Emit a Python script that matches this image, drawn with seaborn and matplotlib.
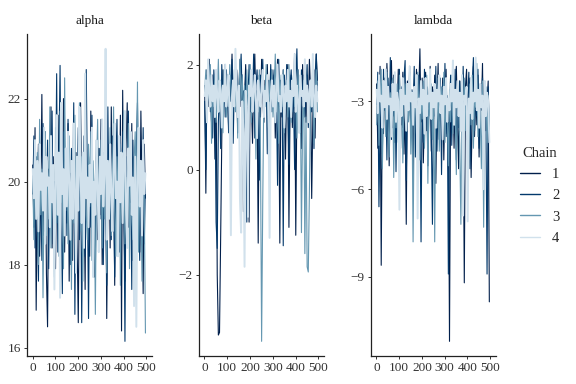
import numpy as np
import pandas as pd
import matplotlib
matplotlib.use("Agg")
import matplotlib.pyplot as plt
from matplotlib.lines import Line2D
import seaborn as sns

# draws, one value every 5 iterations
alpha_c1 = [20.4, 18.9, 21.3, 16.9, 19.8, 20.9, 18.2, 19.5, 22.1, 18.7,
            19.9, 21.2, 17.8, 16.5, 20.3, 19.1, 21.8, 18.4, 20.6, 19.2,
            17.9, 20.8, 19.4, 21.6, 18.6, 20.1, 19.7, 22.0, 18.3, 20.5,
            19.0, 21.4, 17.6, 20.2, 19.3, 18.1, 21.1, 19.8, 20.7, 18.5,
            16.6, 20.4, 21.9, 19.6, 18.8, 20.0, 17.4, 21.3, 19.1, 20.6,
            18.2, 21.7, 19.5, 20.3, 17.7, 19.9, 21.0, 18.6, 20.8, 19.2,
            21.5, 18.0, 20.1, 19.4, 21.2, 16.7, 19.7, 20.9, 18.4, 21.8,
            19.0, 20.5, 17.5, 21.1, 19.6, 20.2, 18.7, 21.6, 16.4, 22.2,
            19.3, 17.6, 20.7, 21.9, 18.9, 20.0, 19.5, 21.4, 18.1, 20.6,
            17.9, 21.0, 19.2, 20.4, 18.3, 21.7, 19.8, 17.3, 20.9, 19.6]
alpha_c2 = [19.7, 21.1, 18.4, 20.6, 19.2, 17.6, 20.9, 19.9, 18.1, 21.4,
            20.2, 18.8, 19.5, 21.0, 17.9, 20.4, 19.1, 21.7, 18.5, 20.0,
            19.6, 22.6, 18.3, 20.7, 22.8, 19.0, 17.3, 21.2, 19.8, 20.5,
            18.7, 21.5, 19.4, 18.0, 20.8, 19.3, 21.9, 16.8, 20.1, 19.7,
            21.3, 18.6, 20.6, 16.6, 19.5, 21.1, 18.2, 22.7, 19.9, 16.7,
            20.3, 18.9, 21.6, 19.2, 20.0, 17.8, 21.0, 19.6, 18.4, 20.8,
            19.1, 21.4, 18.0, 20.5, 19.7, 17.5, 21.8, 19.3, 20.2, 18.6,
            21.1, 19.8, 17.7, 20.4, 21.5, 19.0, 18.3, 20.9, 19.4, 21.2,
            19.9, 16.15, 20.6, 18.8, 21.7, 19.5, 20.1, 17.4, 21.0, 19.2,
            18.7, 20.8, 21.9, 19.6, 18.1, 20.3, 19.0, 21.3, 18.5, 20.0]
alpha_c3 = [20.1, 18.6, 21.0, 19.4, 20.7, 18.0, 21.5, 19.2, 20.3, 17.2,
            19.8, 21.2, 18.7, 20.5, 19.1, 21.8, 18.4, 20.0, 19.6, 17.7,
            21.3, 19.0, 20.6, 18.2, 21.7, 19.5, 20.2, 17.9, 22.5, 19.3,
            20.8, 18.5, 21.1, 19.7, 17.4, 20.4, 19.0, 21.6, 18.3, 20.1,
            19.5, 21.9, 18.8, 20.6, 17.6, 20.0, 21.4, 19.2, 18.6, 20.9,
            19.4, 21.2, 18.1, 20.5, 19.8, 16.8, 20.3, 21.5, 18.9, 19.6,
            21.0, 18.4, 20.7, 19.1, 21.6, 17.8, 20.2, 19.5, 21.3, 18.7,
            20.0, 21.8, 19.3, 18.2, 20.6, 19.7, 21.1, 17.5, 20.4, 19.0,
            21.7, 18.5, 20.1, 19.6, 21.4, 17.9, 20.8, 19.2, 18.6, 20.5,
            21.2, 19.4, 22.4, 18.3, 20.0, 19.8, 17.6, 21.0, 19.5, 16.35]
alpha_c4 = [20.3, 19.6, 21.0, 19.1, 20.5, 18.8, 20.9, 19.8, 20.2, 19.3,
            21.3, 18.5, 20.6, 19.9, 20.1, 18.9, 21.1, 19.5, 20.4, 17.4,
            20.0, 21.6, 19.2, 20.7, 17.2, 21.9, 19.7, 20.3, 18.7, 20.8,
            19.4, 21.2, 20.0, 18.6, 20.5, 19.1, 21.4, 19.8, 17.8, 20.6,
            19.3, 21.8, 20.2, 19.0, 20.7, 18.4, 22.6, 19.6, 20.1, 18.9,
            20.4, 19.5, 21.3, 17.7, 20.0, 19.2, 21.0, 19.9, 18.3, 20.6,
            19.7, 21.5, 19.4, 20.2, 23.2, 18.6, 20.5, 19.1, 20.9, 19.8,
            18.8, 20.3, 21.4, 19.6, 20.0, 18.2, 21.1, 19.5, 20.7, 19.0,
            20.4, 21.7, 19.3, 18.4, 20.8, 19.9, 21.2, 19.2, 20.1, 17.0,
            20.6, 16.5, 20.0, 21.3, 19.4, 20.5, 18.7, 21.0, 19.7, 20.2]

beta_c1 = [1.6, -0.45, 1.9, 1.2, 2.1, 1.4, 0.9, 1.8, 1.5, 0.2,
           1.7, -2.0, -3.15, -3.1, -1.3, 0.6, 1.9, 1.3, 2.0, 1.1,
           1.6, 0.8, 1.8, 1.4, 2.2, 1.0, 1.7, 1.3, 1.9, 0.7,
           1.5, 2.1, 1.2, 1.8, -0.8, 1.4, 2.0, 1.1, 1.6, -1.0,
           1.9, 1.3, 0.5, 1.7, 2.2, 1.2, 1.5, -1.4, 1.8, 1.0,
           2.1, 1.4, 0.9, 1.7, 1.3, 2.0, 1.1, 0.3, 1.6, 1.9,
           1.2, 1.8, 0.6, 1.5, 2.1, 1.3, -1.4, 1.7, 1.0, 1.9,
           1.4, 0.2, 1.6, 2.0, -1.1, 1.2, 1.8, 0.8, 1.5, 2.2,
           -1.25, 1.3, 1.9, 1.1, 1.7, 0.4, 2.0, 1.4, 1.6, 0.9,
           1.8, 1.2, 2.1, 1.5, -0.55, 1.0, 1.9, 0.6, 2.2, 1.7]
beta_c2 = [1.3, 0.0, 1.8, 1.5, 2.0, 1.1, 1.7, 0.6, 1.9, 1.4,
           -1.0, -1.5, 0.9, 1.6, 0.4, 2.0, 1.2, 1.7, 1.0, 1.9,
           1.5, 0.7, 1.8, 1.3, 2.1, 0.5, 1.6, 1.2, 1.9, 1.4,
           1.0, 1.7, 2.2, 1.3, 1.5, 0.8, 1.8, -1.0, 1.4, 2.0,
           1.1, 1.7, 1.3, 2.2, 0.6, 1.6, 1.9, 1.2, -0.2, 1.8,
           1.4, 2.1, 1.0, 1.5, 1.8, 0.3, 1.7, 1.3, 2.0, 1.1,
           1.6, 1.9, 0.9, 1.4, -0.3, 2.1, 1.2, 1.7, 1.5, -1.45,
           1.8, 1.0, 2.0, 1.3, 0.1, 1.6, 1.9, 1.1, 1.4, 0.0,
           1.7, 2.3, 1.2, 1.5, 0.7, 1.9, 1.3, 1.8, 1.0, 1.6,
           2.0, 0.8, 1.4, 1.7, 1.1, 2.1, 0.4, 1.8, 2.2, 1.5]
beta_c3 = [1.5, 1.9, 1.0, 1.7, 1.3, 2.0, 0.5, 1.6, 1.2, 1.8,
           0.9, 1.4, 2.1, 1.1, 1.7, 1.3, 0.7, 1.9, 1.5, 1.0,
           1.8, 1.2, 2.0, 1.6, 0.8, 1.4, 1.9, 1.1, 1.7, 0.6,
           1.5, 2.1, 1.3, 1.8, 1.0, 1.6, 0.4, 1.9, 1.2, 1.5,
           2.0, 0.9, 1.7, 1.3, 1.8, 0.2, 1.5, 1.1, 1.9, 0.3,
           -3.27, -0.6, 1.6, 1.2, 2.0, 1.4, 0.8, 1.7, 1.3, 1.9,
           1.0, 1.5, 2.2, 1.1, 1.6, 0.5, 1.8, 1.4, 1.2, 1.9,
           0.7, 1.5, 1.7, 1.0, 2.0, 1.3, 0.9, 1.6, 1.8, 1.2,
           1.4, 0.6, 1.9, 1.1, 1.5, -1.2, 0.9, 1.7, -1.6, 1.0,
           -1.85, -1.95, -0.4, 1.5, 1.2, 1.8, 0.5, 1.4, 1.9, 1.1]
beta_c4 = [1.4, 1.7, 0.9, 2.1, 1.5, 1.2, 1.8, 1.3, 1.6, 1.0,
           1.9, 1.4, 1.1, 1.7, 1.5, 0.8, 1.6, 1.3, 2.0, 1.2,
           1.5, 1.8, 0.9, -1.25, 1.4, 1.7, 1.2, 2.3, 1.5, 1.0,
           1.6, -0.6, -1.2, 1.3, 0.7, -1.85, 1.5, 1.2, -0.9, 1.6,
           1.4, 1.9, 1.1, 1.5, 1.8, 1.3, 0.6, 1.7, 1.4, 1.2,
           1.6, 1.9, 1.0, 1.5, 1.3, 1.8, 1.1, -1.3, 1.4, 1.7,
           1.2, 1.6, 0.9, 1.5, 2.0, 1.3, 1.4, 1.1, 1.8, 1.5,
           0.8, 1.6, 1.3, 1.9, 1.2, 1.5, 1.0, 1.7, 1.4, 2.2,
           1.1, 1.6, 1.3, 0.7, 1.8, 1.4, 1.5, 1.2, 2.1, 1.3,
           1.6, 0.9, 1.5, 1.7, 1.2, 2.2, 1.4, 1.0, 1.6, 1.3]

lambda_c1 = [-2.4, -4.6, -3.2, -1.8, -8.6, -2.9, -4.1, -2.2, -3.6, -1.7,
             -2.8, -5.2, -2.5, -1.6, -3.9, -2.1, -4.4, -2.7, -3.3, -1.9,
             -5.0, -2.6, -3.8, -2.0, -4.8, -3.1, -7.2, -2.3, -3.5, -1.8,
             -4.2, -2.9, -5.5, -2.4, -3.0, -1.9, -4.5, -2.7, -1.2, -3.7,
             -2.2, -5.1, -3.4, -2.0, -4.0, -2.8, -3.2, -1.8, -4.7, -2.5,
             -3.6, -2.1, -5.8, -3.0, -1.7, -4.3, -2.6, -3.9, -2.2, -5.0,
             -2.8, -1.9, -4.1, -3.3, -11.2, -2.4, -3.7, -2.0, -4.6, -2.9,
             -1.8, -3.5, -5.3, -2.3, -4.0, -2.7, -3.1, -9.2, -2.5, -1.9,
             -4.4, -3.0, -2.2, -5.6, -3.4, -1.8, -4.2, -2.6, -3.8, -2.1,
             -4.9, -2.8, -3.3, -1.7, -5.1, -2.4, -4.0, -3.0, -2.3, -9.85]
lambda_c2 = [-3.1, -2.0, -6.6, -3.6, -2.4, -4.8, -1.9, -3.3, -2.6, -5.0,
             -2.2, -3.8, -1.5, -4.3, -2.8, -3.5, -2.1, -5.4, -2.7, -3.0,
             -1.9, -4.6, -2.5, -3.9, -2.2, -1.6, -5.7, -2.9, -3.4, -2.0,
             -4.1, -2.6, -3.2, -1.8, -4.9, -2.4, -3.7, -2.1, -3.0, -7.8,
             -2.7, -4.4, -1.9, -3.3, -2.5, -5.2, -3.0, -2.0, -4.0, -7.2,
             -2.6, -3.5, -1.8, -4.7, -2.9, -3.2, -2.2, -5.5, -2.4, -3.8,
             -1.7, -4.2, -2.8, -8.9, -3.1, -2.1, -4.5, -2.6, -3.4, -1.9,
             -5.0, -2.7, -3.9, -2.3, -3.0, -4.8, -1.8, -3.6, -2.5, -4.3,
             -2.9, -2.0, -5.3, -3.2, -2.4, -1.5, -4.0, -2.8, -3.5, -1.9,
             -4.6, -2.6, -3.1, -2.2, -5.4, -2.9, -3.7, -8.9, -2.5, -4.1]
lambda_c3 = [-3.8, -2.3, -4.5, -2.9, -1.9, -5.3, -3.1, -2.5, -4.2, -2.0,
             -3.6, -4.9, -2.7, -3.3, -2.2, -5.6, -2.8, -3.9, -2.4, -4.4,
             -2.1, -3.5, -2.8, -5.1, -3.0, -2.4, -4.0, -2.6, -3.7, -2.2,
             -4.8, -2.9, -7.8, -3.4, -2.5, -4.1, -2.0, -3.2, -5.0, -2.7,
             -3.6, -2.3, -4.6, -3.0, -2.1, -5.8, -2.8, -3.5, -2.4, -4.3,
             -3.1, -7.8, -2.6, -3.9, -2.2, -4.7, -3.0, -2.5, -3.8, -2.0,
             -4.4, -2.9, -3.3, -5.2, -2.6, -3.7, -2.1, -4.1, -2.8, -3.4,
             -5.5, -2.3, -3.0, -4.5, -7.2, -2.7, -3.6, -2.2, -4.0, -2.9,
             -3.3, -5.0, -2.4, -3.8, -2.1, -4.6, -2.9, -3.2, -1.7, -4.2,
             -2.6, -3.5, -5.3, -2.3, -7.3, -3.0, -2.5, -4.4, -2.8, -3.9]
lambda_c4 = [-2.6, -3.4, -2.1, -3.0, -2.8, -3.9, -2.3, -3.2, -1.9, -3.6,
             -2.5, -3.1, -2.9, -4.2, -2.4, -3.3, -2.0, -3.7, -2.7, -3.0,
             -6.7, -2.6, -3.5, -2.2, -3.1, -2.8, -4.0, -2.4, -3.3, -1.8,
             -3.0, -2.7, -3.8, -2.5, -3.2, -2.1, -7.0, -2.9, -3.4, -2.3,
             -3.1, -2.6, -4.1, -2.2, -3.5, -2.8, -3.0, -1.9, -3.6, -2.7,
             -3.2, -2.4, -3.9, -2.6, -3.0, -2.1, -3.4, -2.8, -4.3, -2.5,
             -3.1, -2.2, -3.7, -2.9, -3.3, -2.4, -3.0, -1.6, -3.8, -2.6,
             -3.2, -2.3, -3.5, -2.7, -4.0, -2.1, -6.9, -2.8, -3.1, -2.5,
             -7.1, -2.9, -3.4, -2.2, -3.6, -2.7, -3.0, -1.5, -3.3, -2.6,
             -3.9, -2.4, -3.2, -2.8, -6.0, -2.3, -3.5, -2.7, -3.0, -4.4]

params = ["alpha", "beta", "lambda"]
chains = ["1", "2", "3", "4"]
draws = {
    "alpha": [alpha_c1, alpha_c2, alpha_c3, alpha_c4],
    "beta": [beta_c1, beta_c2, beta_c3, beta_c4],
    "lambda": [lambda_c1, lambda_c2, lambda_c3, lambda_c4],
}
y_ticks = {"alpha": [16, 18, 20, 22], "beta": [-2, 0, 2], "lambda": [-9, -6, -3]}
x_ticks = [0, 100, 200, 300, 400, 500]
chain_colors = ["#011f4b", "#03396c", "#6497b1", "#d1e1ec"]
# the light chain is drawn last and fills the middle of each trace
chain_widths = {"1": 0.8, "2": 0.8, "3": 0.8, "4": 1.4}

rows = []
for p in params:
    for ch, vals in zip(chains, draws[p]):
        it = np.arange(len(vals)) * 5 + 1
        for i, v in zip(it, vals):
            rows.append((p, ch, i, v))
df = pd.DataFrame(rows, columns=["param", "chain", "iteration", "value"])

sns.set_style("ticks")
plt.rcParams["font.family"] = ["Liberation Serif", "DejaVu Serif"]

fig, axes = plt.subplots(1, 3, figsize=(5.76, 3.84), dpi=100)
fig.subplots_adjust(left=0.047, right=0.861, top=0.911, bottom=0.073, wspace=0.376)

for ax, p in zip(axes, params):
    sub = df[df["param"] == p]
    sns.lineplot(data=sub, x="iteration", y="value", hue="chain",
                 hue_order=chains, palette=chain_colors,
                 size="chain", size_order=chains, sizes=chain_widths,
                 estimator=None, sort=False, legend=False, ax=ax)
    lo, hi = sub["value"].min(), sub["value"].max()
    pad = (hi - lo) * 0.05
    ax.set_ylim(lo - pad, hi + pad)
    ax.set_xlim(-24, 525)
    ax.set_xticks(x_ticks)
    ax.set_yticks(y_ticks[p])
    ax.set_xlabel("")
    ax.set_ylabel("")
    ax.set_title(p, fontsize=9.5, pad=7, color="#1a1a1a")
    sns.despine(ax=ax)
    for s in ["left", "bottom"]:
        ax.spines[s].set_linewidth(0.9)
        ax.spines[s].set_color("#222222")
    ax.tick_params(labelsize=9.5, colors="#333333", length=2.5, width=0.7, pad=2)

handles = [Line2D([0], [0], color=c, lw=1.0) for c in chain_colors]
fig.legend(handles, chains, title="Chain", loc="center left",
           bbox_to_anchor=(0.88, 0.49), frameon=False, fontsize=10.5,
           title_fontsize=10.5, handlelength=1.4, labelspacing=0.55,
           handletextpad=0.8)

plt.savefig("out.png", dpi=100)
